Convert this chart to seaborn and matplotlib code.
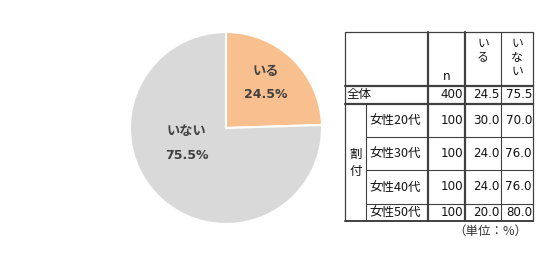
import matplotlib
matplotlib.use("Agg")
import matplotlib.pyplot as plt
import seaborn as sns

sns.set_style("white")
plt.rcParams['font.family'] = ['Noto Sans CJK JP', 'DejaVu Sans']

# ---- data ----
pie_labels = ["いる", "いない"]
pie_values = [24.5, 75.5]
pie_colors = ["#F9C08F", "#D9D9D9"]

row_labels = ["全体", "女性20代", "女性30代", "女性40代", "女性50代"]
n_values = [400, 100, 100, 100, 100]
iru_values = [24.5, 30.0, 24.0, 24.0, 20.0]
inai_values = [75.5, 70.0, 76.0, 76.0, 80.0]
group_label = "割付"
col_headers = ["n", "いる", "いない"]
unit_text = "（単位：%）"

W, H = 536, 257
fig = plt.figure(figsize=(W / 100, H / 100), dpi=100)

# ---- pie ----
cx, cy, r = 226, 128, 96
axp = fig.add_axes([(cx - r) / W, (H - cy - r) / H, 2 * r / W, 2 * r / H])
wedges, _ = axp.pie(pie_values, colors=pie_colors, startangle=90, counterclock=False,
                    wedgeprops=dict(edgecolor="white", linewidth=1.5), radius=1.0)
axp.set_xlim(-1, 1)
axp.set_ylim(-1, 1)
axp.set_aspect("equal")
axp.axis("off")
label_pos = [(0.41, 0.47), (-0.41, -0.16)]
for (lx, ly), lab, v in zip(label_pos, pie_labels, pie_values):
    axp.text(lx, ly + 0.125, lab, ha="center", va="center", fontsize=9.5,
             fontweight="bold", color="#404040")
    axp.text(lx, ly - 0.125, f"{v:.1f}%", ha="center", va="center", fontsize=9,
             fontweight="bold", color="#404040", family=["DejaVu Sans"])

# ---- table ----
axt = fig.add_axes([0, 0, 1, 1])
axt.set_xlim(0, W)
axt.set_ylim(H, 0)
axt.axis("off")
axt.patch.set_alpha(0)

xs = [345, 366, 428, 465, 501, 533]
ys = [32, 85.5, 103.5, 137, 170, 204, 221]
lc = "#404040"
# horizontal lines
axt.plot([xs[0], xs[-1]], [ys[0], ys[0]], color=lc, lw=0.9)
axt.plot([xs[0], xs[-1]], [ys[1], ys[1]], color=lc, lw=1.6)
axt.plot([xs[0], xs[-1]], [ys[2], ys[2]], color=lc, lw=1.6)
for yy in ys[3:6]:
    axt.plot([xs[1], xs[-1]], [yy, yy], color=lc, lw=0.8)
axt.plot([xs[0], xs[-1]], [ys[-1], ys[-1]], color=lc, lw=1.4)
# vertical lines
axt.plot([xs[0], xs[0]], [ys[0], ys[-1]], color=lc, lw=0.9)
axt.plot([xs[1], xs[1]], [ys[2], ys[-1]], color=lc, lw=0.8)
axt.plot([xs[2], xs[2]], [ys[0], ys[-1]], color=lc, lw=1.6)
axt.plot([xs[3], xs[3]], [ys[0], ys[-1]], color=lc, lw=1.6)
axt.plot([xs[4], xs[4]], [ys[0], ys[-1]], color=lc, lw=0.8)
axt.plot([xs[5], xs[5]], [ys[0], ys[-1]], color=lc, lw=0.9)

tc = "#111111"
fs = 9
fsn = 8.6
# headers
axt.text((xs[2] + xs[3]) / 2, 77, col_headers[0], ha="center", va="center", fontsize=fsn,
         color=tc, family=["DejaVu Sans"])
for i, ch in enumerate(col_headers[1]):
    axt.text((xs[3] + xs[4]) / 2, 43 + i * 14, ch, ha="center", va="center", fontsize=fs - 0.5, color=tc)
for i, ch in enumerate(col_headers[2]):
    axt.text((xs[4] + xs[5]) / 2, 43 + i * 14, ch, ha="center", va="center", fontsize=fs - 0.5, color=tc)

# group label
for i, ch in enumerate(group_label):
    axt.text((xs[0] + xs[1]) / 2, 154 + i * 18, ch, ha="center", va="center", fontsize=fs, color=tc)

# rows
for k, (lab, n, a, b) in enumerate(zip(row_labels, n_values, iru_values, inai_values)):
    yc = (ys[k + 1] + ys[k + 2]) / 2
    lx = xs[0] + 2 if k == 0 else xs[1] + 3
    axt.text(lx, yc, lab, ha="left", va="center", fontsize=fs, color=tc,
             family=["Noto Sans CJK JP", "DejaVu Sans"])
    axt.text(xs[3] - 2, yc, f"{n}", ha="right", va="center", fontsize=fsn, color=tc,
             family=["DejaVu Sans"])
    axt.text(xs[4] - 2, yc, f"{a:.1f}", ha="right", va="center", fontsize=fsn, color=tc,
             family=["DejaVu Sans"])
    axt.text(xs[5] - 1, yc, f"{b:.1f}", ha="right", va="center", fontsize=fsn, color=tc,
             family=["DejaVu Sans"])

axt.text(527, 231, unit_text, ha="right", va="center", fontsize=fs, color="#333333")

fig.savefig("out.png", dpi=100)
